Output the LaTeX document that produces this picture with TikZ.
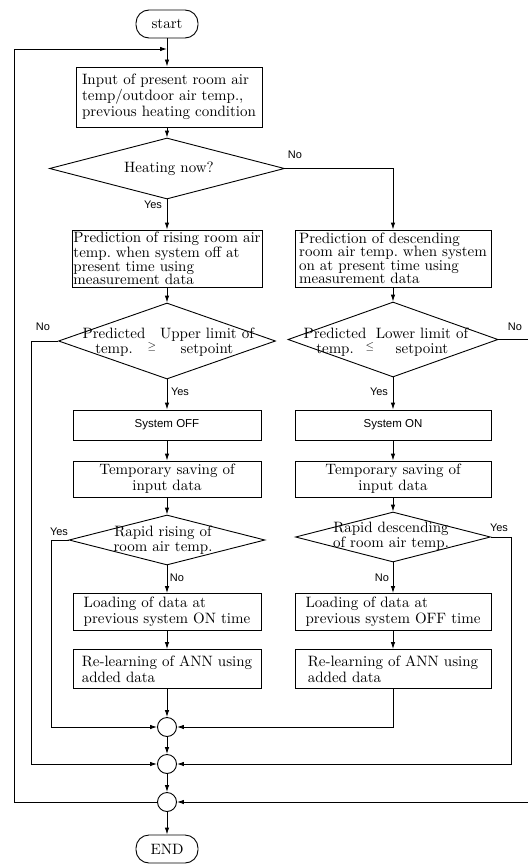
\documentclass[tikz,border=0pt]{standalone}
\usepackage{fontspec}
\setmainfont{lmroman10-regular}[Extension=.otf]
\setsansfont{Liberation Sans}
\usetikzlibrary{shapes.geometric,arrows.meta}

\begin{document}
\begin{tikzpicture}[x=1pt,y=-1pt,line width=0.9pt,>={Latex[length=7pt,width=4.5pt]},
  box/.style={draw, inner sep=0pt, align=left, font=\fontsize{15}{16}\selectfont},
  cbox/.style={box, align=center},
  sbox/.style={draw, inner sep=0pt, font=\sffamily\fontsize{11.5}{13}\selectfont},
  dia/.style={draw, diamond, inner sep=0pt},
  txt/.style={inner sep=0pt, align=center, font=\fontsize{15}{15}\selectfont},
  lbl/.style={inner sep=0pt, font=\sffamily\fontsize{11}{12}\selectfont},
  junc/.style={draw, circle, minimum size=19pt, inner sep=0pt},
  term/.style={draw, rounded corners=13pt, minimum width=62pt, minimum height=28pt, inner sep=0pt, font=\fontsize{15}{16}\selectfont}]
\useasboundingbox (0,0) rectangle (527,864);

% main column, left branch
\node[term] (start) at (167,24) {start};
\coordinate (top) at (167,49);
\node[box, minimum width=186pt, minimum height=60pt] (input) at (169,97) {Input of present room air\\temp/outdoor air temp.,\\previous heating condition};
\node[dia, minimum width=235pt, minimum height=61pt] (dHeat) at (167,168.5) {};
\node[txt] (tHeat) at (169,169) {Heating now?};
\node[box, font=\fontsize{15}{13.5}\selectfont, minimum width=190pt, minimum height=57pt] (predL) at (167,258.5) {Prediction of rising room air\\temp.\ when system off at\\present time using\\measurement data};
\node[dia, minimum width=217pt, minimum height=76pt] (dUp) at (167,341) {};
\node[txt] (tUpA) at (114,342) {Predicted\\temp.};
\node[txt, font=\fontsize{11}{11}\selectfont] (tUpS) at (152,347) {$\geq$};
\node[txt] (tUpB) at (207,342) {Upper limit of\\setpoint};
\node[sbox, minimum width=188pt, minimum height=30pt] (offL) at (167,425) {System OFF};
\node[cbox, minimum width=188pt, minimum height=36pt] (saveL) at (167,479) {Temporary saving of\\input data};
\node[dia, minimum width=196pt, minimum height=50pt] (dRise) at (167,540) {};
\node[txt] (tRise) at (163,540) {Rapid rising of\\room air temp.};
\node[box, minimum width=188pt, minimum height=37pt] (loadL) at (167,612) {Loading of data at\\previous system ON time};
\node[box, minimum width=188pt, minimum height=39pt] (reLL) at (167,669) {Re-learning of ANN using\\added data};

% right branch
\node[box, font=\fontsize{15}{13.5}\selectfont, minimum width=196pt, minimum height=57pt] (predR) at (393,258.5) {Prediction of descending\\room air temp.\ when system\\on at present time using\\measurement data};
\node[dia, minimum width=210pt, minimum height=75pt] (dLo) at (393,339.5) {};
\node[txt] (tLoA) at (335,342) {Predicted\\temp.};
\node[txt, font=\fontsize{11}{11}\selectfont] (tLoS) at (370,347) {$\leq$};
\node[txt] (tLoB) at (422,342) {Lower limit of\\setpoint};
\node[sbox, minimum width=196pt, minimum height=30pt] (onR) at (393,425) {System ON};
\node[cbox, minimum width=196pt, minimum height=36pt] (saveR) at (393,479) {Temporary saving of\\input data};
\node[dia, minimum width=195pt, minimum height=50pt] (dFall) at (393,537) {};
\node[txt] (tFall) at (391,536) {Rapid descending\\of room air temp.};
\node[box, minimum width=196pt, minimum height=37pt] (loadR) at (393,612) {Loading of data at\\previous system OFF time};
\node[box, minimum width=196pt, minimum height=39pt] (reLR) at (393,669) {Re-learning of ANN using\\added data};

% joins and end
\node[junc] (j1) at (167,727) {};
\node[junc] (j2) at (167,764) {};
\node[junc] (j3) at (167,802) {};
\node[term] (stop) at (167,849) {END};

% yes / no labels
\node[lbl] (nHeat) at (295,155) {No};
\node[lbl] (yHeat) at (153,205) {Yes};
\node[lbl] (nUp) at (43,327) {No};
\node[lbl] (yUp) at (180,392) {Yes};
\node[lbl] (nLo) at (515,327) {No};
\node[lbl] (yLo) at (379,392) {Yes};
\node[lbl] (yRise) at (59,532) {Yes};
\node[lbl] (nRise) at (177,578) {No};
\node[lbl] (yFall) at (499,528) {Yes};
\node[lbl] (nFall) at (382,578) {No};

\draw[->] (start) -- (input.north -| start);
\draw[->] (input.south -| dHeat) -- (dHeat);
\draw[->] (dHeat) -- (predL);
\draw[->] (dHeat.east) -| (predR);
\draw[->] (predL) -- (dUp);
\draw[->] (predR) -- (dLo);
\draw[->] (dUp) -- (offL);
\draw[->] (dLo) -- (onR);
\draw[->] (offL) -- (saveL);
\draw[->] (onR) -- (saveR);
\draw[->] (saveL) -- (dRise);
\draw[->] (saveR) -- (dFall);
\draw[->] (dRise) -- (loadL);
\draw[->] (dFall) -- (loadR);
\draw[->] (loadL) -- (reLL);
\draw[->] (loadR) -- (reLR);
\draw[->] (reLL) -- (j1);
\draw[->] (reLR) |- (j1);
\draw[->] (dRise.west) -- ++(-17,0) |- (j1);
\draw[->] (dUp.west) -- ++(-26.5,0) |- (j2);
\draw[->] (dFall.east) -- ++(20,0) |- (j2);
\draw[->] (dLo.east) -- ++(31,0) |- (j3);
\draw[->] (j1) -- (j2);
\draw[->] (j2) -- (j3);
\draw[->] (j3) -- (stop);
\draw[->] (j3.west) -- ++(-143,0) |- (top);
\end{tikzpicture}
\end{document}
